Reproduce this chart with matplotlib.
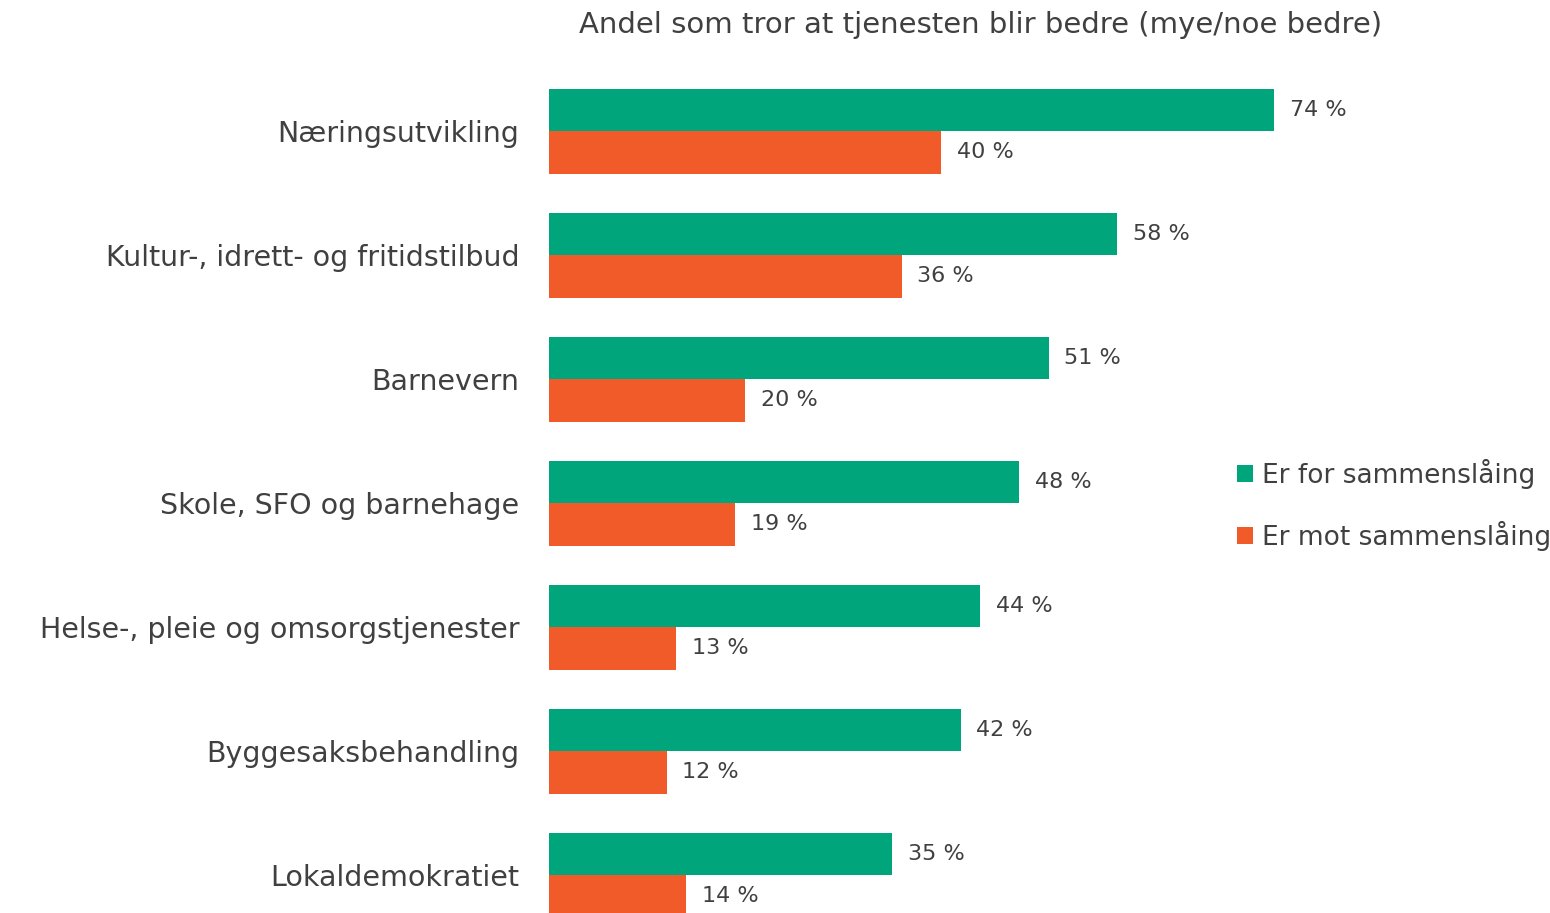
import matplotlib.pyplot as plt
import numpy as np

categories = ['Næringsutvikling', 'Kultur-, idrett- og fritidstilbud', 'Barnevern',
              'Skole, SFO og barnehage', 'Helse-, pleie og omsorgstjenester',
              'Byggesaksbehandling', 'Lokaldemokratiet']
for_values = [74, 58, 51, 48, 44, 42, 35]
mot_values = [40, 36, 20, 19, 13, 12, 14]
series_names = ['Er for sammenslåing', 'Er mot sammenslåing']
title = 'Andel som tror at tjenesten blir bedre (mye/noe bedre)'

green = '#00A57C'
orange = '#F15A29'
txt = '#404040'

plt.rcParams['font.family'] = ['DejaVu Sans']

W, H = 1550, 913
fig = plt.figure(figsize=(W / 100, H / 100), dpi=100)
ax = fig.add_axes([549 / W, 0, (W - 549) / W, (913 - 60) / H])

y = np.arange(len(categories))
h = 0.343
b1 = ax.barh(y - h / 2, for_values, height=h, color=green, label=series_names[0])
b2 = ax.barh(y + h / 2, mot_values, height=h, color=orange, label=series_names[1])

for bars, vals in [(b1, for_values), (b2, mot_values)]:
    for bar, v in zip(bars, vals):
        ax.text(bar.get_width() + 1.6, bar.get_y() + bar.get_height() / 2, f'{v} %',
                va='center', ha='left', fontsize=16, color=txt)

ax.set_xlim(0, (W - 549) / 9.8)
ax.set_ylim(6.306, -0.573)
ax.set_yticks(y)
ax.set_yticklabels(categories, fontsize=20.5, color=txt)
ax.tick_params(axis='y', length=0, pad=21.5)
ax.set_xticks([])
for s in ax.spines.values():
    s.set_visible(False)

fig.text(981 / W, 1 - 25 / H, title, ha='center', va='center', fontsize=21, color=txt)

fig.legend(handles=[b1, b2], loc='center left', bbox_to_anchor=(1213 / W, 1 - 505 / H),
           frameon=False, fontsize=19, labelcolor=txt, handlelength=0.6, handleheight=0.6,
           handletextpad=0.35, labelspacing=1.2)

fig.savefig('out.png', dpi=100)
